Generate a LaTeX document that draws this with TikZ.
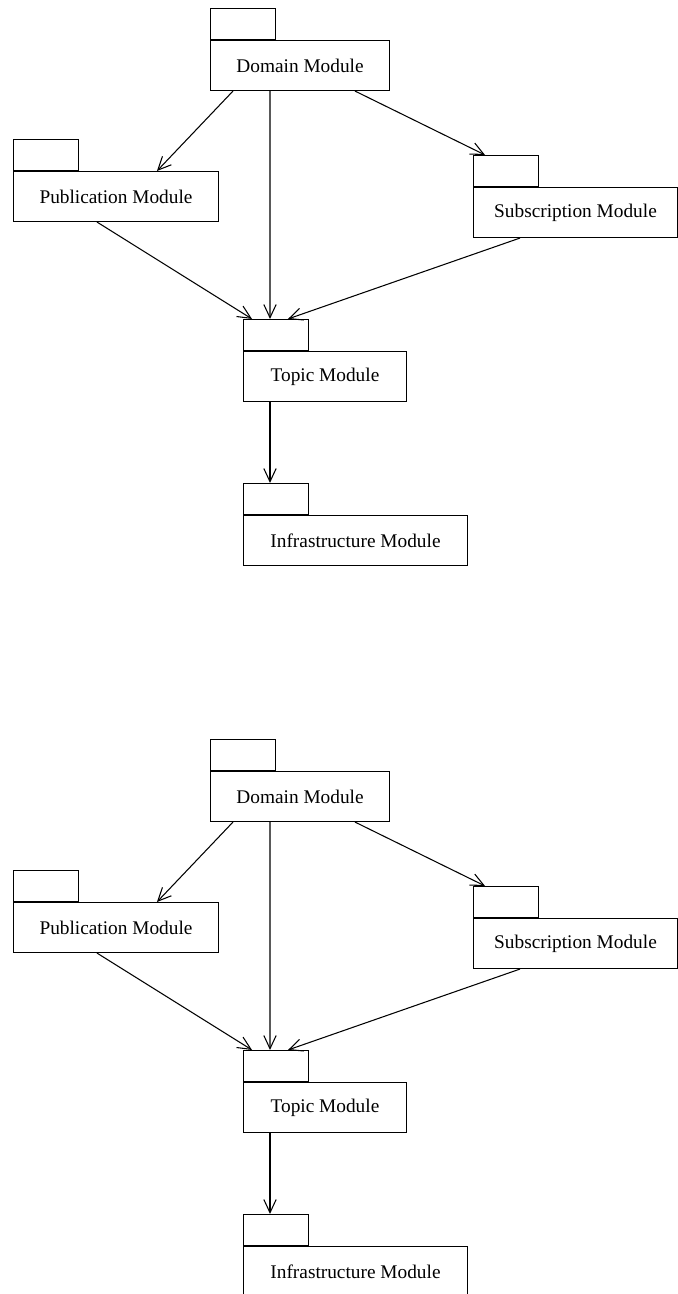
\documentclass[tikz,border=0pt]{standalone}
\usepackage{fontspec}
\setmainfont{Liberation Serif}
\usetikzlibrary{arrows.meta}
\tikzset{
  modbody/.style={draw, line width=0.6pt, anchor=north west, minimum height=1cm,
    inner sep=0pt, font=\fontsize{11}{13}\selectfont},
  modtab/.style={draw, line width=0.6pt, anchor=south west, minimum width=1.3cm,
    minimum height=0.62cm, inner sep=0pt},
  dep/.style={->, line width=0.6pt},
  >={Straight Barb[length=7.5pt,width=7pt]}
}
\begin{document}
\begin{tikzpicture}[x=0.02cm, y=-0.02cm]
    \clip (0,0) rectangle (678,1294);
    \foreach \k/\dy in {a/0, b/731} {
    \begin{scope}[shift={(0,\dy)}]
        % Packages
        \node[modbody, minimum width=3.58cm] (\k dom) at (210,40) {Domain Module};
        \node[modtab] (\k domtab) at (\k dom.north west) {};
        \node[modbody, minimum width=4.1cm] (\k pub) at (13,171) {Publication Module};
        \node[modtab] (\k pubtab) at (\k pub.north west) {};
        \node[modbody, minimum width=4.08cm] (\k sub) at (473,187) {Subscription Module};
        \node[modtab] (\k subtab) at (\k sub.north west) {};
        \node[modbody, minimum width=3.26cm] (\k top) at (243,351) {Topic Module};
        \node[modtab] (\k toptab) at (\k top.north west) {};
        \node[modbody, minimum width=4.48cm] (\k inf) at (243,515) {Infrastructure Module};
        \node[modtab] (\k inftab) at (\k inf.north west) {};

        % Dependencies
        \draw[dep] ([xshift=0.46cm]\k dom.south west) -- ([xshift=2.88cm]\k pub.north west);
        \draw[dep] ([xshift=1.2cm]\k dom.south west) -- ([xshift=0.54cm]\k toptab.north west);
        \draw[dep] ([xshift=2.9cm]\k dom.south west) -- ([xshift=0.24cm]\k subtab.north west);
        \draw[dep] ([xshift=1.68cm]\k pub.south west) -- ([xshift=0.18cm]\k toptab.north west);
        \draw[dep] ([xshift=0.94cm]\k sub.south west) -- ([xshift=0.9cm]\k toptab.north west);
        \draw[dep] ([xshift=0.54cm]\k top.south west) -- ([xshift=0.54cm]\k inftab.north west);
    \end{scope}
    }
\end{tikzpicture}
\end{document}
